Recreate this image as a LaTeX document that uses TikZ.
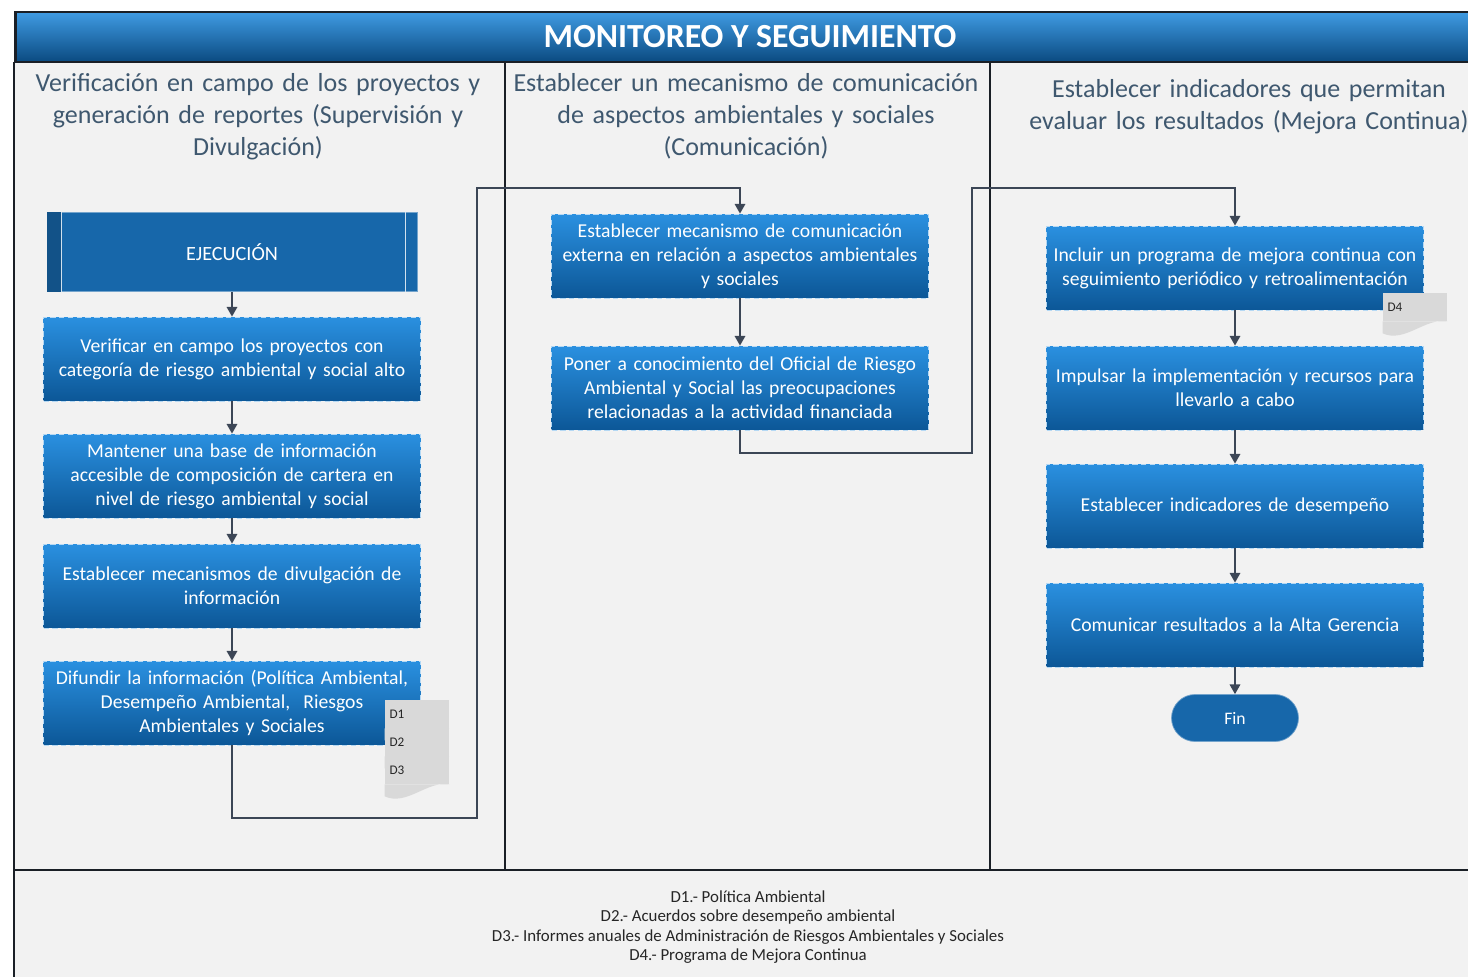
\documentclass[tikz,border=0pt]{standalone}
\usepackage{fontspec}
\setmainfont{Carlito}
\usetikzlibrary{arrows.meta,calc}

\definecolor{boxtop}{HTML}{2A90E0}
\definecolor{boxbot}{HTML}{0C5797}
\definecolor{ejecblue}{HTML}{1767AA}
\definecolor{lanegray}{HTML}{F2F2F2}
\definecolor{headtxt}{HTML}{3F586F}
\definecolor{linecol}{HTML}{3C4656}
\definecolor{docgray}{HTML}{D9D9D9}
\definecolor{framecol}{HTML}{1A1F26}

\tikzset{
  procbox/.style={shading=axis, top color=boxtop, bottom color=boxbot,
    draw=boxtop!35!white, densely dashed, line width=0.5pt,
    minimum width=7.54cm, minimum height=1.68cm, text width=7.5cm,
    align=center, text=white, inner sep=0pt,
    font=\fontsize{11.2}{13.7}\selectfont},
  ejecbox/.style={fill=ejecblue, draw=ejecblue!60!white, line width=0.5pt,
    minimum width=7.4cm, minimum height=1.58cm, text=white,
    font=\fontsize{11.5}{13}\selectfont},
  finbox/.style={fill=ejecblue, draw=ejecblue!60!white, rounded corners=0.47cm,
    minimum width=2.54cm, minimum height=0.94cm, text=white,
    font=\fontsize{10}{12}\selectfont},
  lanehead/.style={text=headtxt, align=center, text width=10cm,
    font=\fontsize{14.8}{18.1}\selectfont},
  docu/.style={fill=docgray, minimum width=1.28cm, minimum height=0.56cm,
    inner sep=0pt, text width=1.1cm, align=left, text=black!85,
    font=\fontsize{7.5}{8}\selectfont},
  link/.style={draw=linecol, line width=0.9pt},
  frameline/.style={draw=framecol, line width=1.4pt}
}

\begin{document}
\begin{tikzpicture}[x=0.02cm, y=-0.02cm, >={Triangle[length=5.5pt,width=6pt]}]

\useasboundingbox (0,0) rectangle (1468,977);
\fill[lanegray] (14,62) rectangle (1468,977);

% lanes
\draw[frameline] (14,62) -- (14,977);
\draw[frameline] (14,870) -- (1468,870);
\draw[frameline] (505,62) -- (505,870);
\draw[frameline] (990,62) -- (990,870);

\node[shading=axis, top color=boxtop!90!white, bottom color=boxbot!85!black,
  draw=framecol, line width=1.6pt, minimum width=29.4cm, minimum height=1cm,
  text=white, font=\fontsize{19.2}{21}\selectfont\bfseries]
  at (750,37) (title) {MONITOREO Y SEGUIMIENTO};

\node[lanehead] at (258,117) (lane1) {Verificación en campo de los proyectos y\\ generación de reportes (Supervisión y\\ Divulgación)};
\node[lanehead] at (746,116) (lane2) {Establecer un mecanismo de comunicación\\ de aspectos ambientales y sociales\\ (Comunicación)};
\node[lanehead] at (1249,107) (lane3) {Establecer indicadores que permitan\\ evaluar los resultados (Mejora Continua)};

% supervision
\node[ejecbox] at (232,252) (ejec) {EJECUCIÓN};
\fill[ejecblue!80!black] (ejec.north west) rectangle ($(ejec.south west)+(14,0)$);
\draw[white!80!ejecblue, line width=0.8pt] ($(ejec.north west)+(15,0)$) -- ($(ejec.south west)+(15,0)$);
\draw[white!80!ejecblue, line width=0.8pt] ($(ejec.north east)+(-12,0)$) -- ($(ejec.south east)+(-12,0)$);
\node[procbox] at (232,359) (verif) {Verificar en campo los proyectos con\\ categoría de riesgo ambiental y social alto};
\node[procbox] at (232,476) (base) {Mantener una base de información\\ accesible de composición de cartera en\\ nivel de riesgo ambiental y social};
\node[procbox] at (232,586) (divul) {Establecer mecanismos de divulgación de\\ información};
\node[procbox] at (232,703) (difun) {Difundir la información (Política Ambiental,\\ Desempeño Ambiental,~ Riesgos\\ Ambientales y Sociales};

% comunicacion
\node[procbox] at (740,256) (extern) {Establecer mecanismo de comunicación\\ externa en relación a aspectos ambientales\\ y sociales};
\node[procbox] at (740,388) (oficial) {Poner a conocimiento del Oficial de Riesgo\\ Ambiental y Social las preocupaciones\\ relacionadas a la actividad financiada};

% mejora continua
\node[procbox] at (1235,268) (progr) {Incluir un programa de mejora continua con\\ seguimiento periódico y retroalimentación};
\node[procbox] at (1235,388) (impul) {Impulsar la implementación y recursos para\\ llevarlo a cabo};
\node[procbox] at (1235,506) (indic) {Establecer indicadores de desempeño};
\node[procbox] at (1235,625) (comun) {Comunicar resultados a la Alta Gerencia};
\node[finbox] at (1235,718) (fin) {Fin};

% documents
\foreach \n/\xx/\yy/\t in {d1/417/714/D1, d2/417/742/D2, d3/417/770/D3, d4/1415/307/D4} {
  \node[docu] at (\xx,\yy) (\n) {\t};
  \fill[docgray] (\n.south west) -- ($(\n.south west)+(0,12)$)
    .. controls ($(\n.south west)+(22,22)$) and ($(\n.south east)+(-22,-4)$) .. (\n.south east) -- cycle;
}

\coordinate (loopa) at (477,818);
\coordinate (loopb) at (740,188);
\coordinate (loopc) at (972,453);
\coordinate (loopd) at (1235,188);

    \draw[link, ->] (ejec) -- (verif);
    \draw[link, ->] (verif) -- (base);
    \draw[link, ->] (base) -- (divul);
    \draw[link, ->] (divul) -- (difun);
    \draw[link, ->] (difun.south) |- (loopa) |- (loopb) -- (extern.north);
    \draw[link, ->] (extern) -- (oficial);
    \draw[link, ->] (oficial.south) |- (loopc) |- (loopd) -- (progr.north);
    \draw[link, ->] (progr) -- (impul);
    \draw[link, ->] (impul) -- (indic);
    \draw[link, ->] (indic) -- (comun);
    \draw[link, ->] (comun) -- (fin);

\node[align=center, font=\fontsize{9.6}{11.1}\selectfont, text=black!85] at (748,927) (legend)
  {D1.- Política Ambiental\\ D2.- Acuerdos sobre desempeño ambiental\\ D3.- Informes anuales de Administración de Riesgos Ambientales y Sociales\\ D4.- Programa de Mejora Continua};

\end{tikzpicture}
\end{document}
